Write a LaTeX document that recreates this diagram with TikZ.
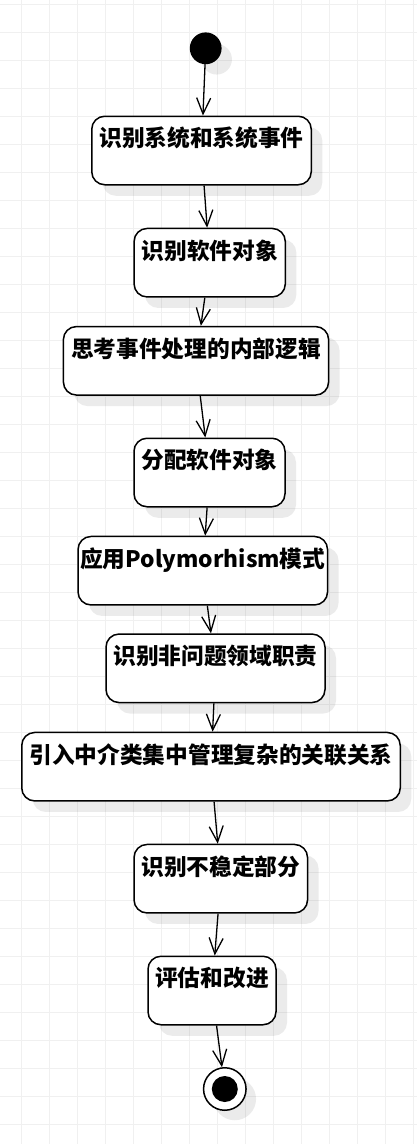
\documentclass[tikz,border=0pt]{standalone}
\usepackage{fontspec}
\setmainfont{Noto Sans CJK SC}
\usetikzlibrary{arrows.meta,shadows}

\begin{document}
\begin{tikzpicture}[x=1pt, y=-1pt,
        gridline/.style={draw=black!6, line width=0.9pt},
        act/.style={rectangle, rounded corners=13pt, draw, line width=1.5pt, fill=white, minimum height=68.5pt, inner sep=0pt, text height=30.6pt, text depth=37.9pt, font=\fontsize{22.7}{26}\selectfont\bfseries, drop shadow={shadow xshift=11pt, shadow yshift=-11pt, fill=black, opacity=0.08}},
        initial/.style={circle, draw, fill=black, line width=1.3pt, minimum size=30.5pt, inner sep=0pt, drop shadow={shadow xshift=11pt, shadow yshift=-11pt, fill=black, opacity=0.08}},
        final/.style={circle, draw, fill=white, line width=1.5pt, minimum size=42.5pt, inner sep=0pt, path picture={\fill[black] (path picture bounding box.center) circle (13pt);}, drop shadow={shadow xshift=10pt, shadow yshift=-10pt, fill=black, opacity=0.08}},
        flow/.style={-{Straight Barb[length=16pt, width=14pt]}, line width=1.3pt},
    ]
        % page and grid
        \useasboundingbox[fill=white] (0,0) rectangle (417,1144);
        \foreach \i in {0,...,14}
            \draw[gridline] ({21.3+28*\i},0) -- ({21.3+28*\i},1144);
        \foreach \j in {0,...,40}
            \draw[gridline] (0,{4.3+28*\j}) -- (417,{4.3+28*\j});

        % activities
        \node[initial] (start) at (205.7, 48.3) {};
        \node[act, minimum width=219.5pt] (sysevt) at (201.5, 150.5) {识别系统和系统事件};
        \node[act, minimum width=151.2pt] (swobj) at (209.7, 262.7) {识别软件对象};
        \node[act, minimum width=265.2pt] (logic) at (196, 360.8) {思考事件处理的内部逻辑};
        \node[act, minimum width=151pt] (assign) at (209.5, 472.5) {分配软件对象};
        \node[act, minimum width=249.5pt] (poly) at (202.8, 570.7) {应用Polymorhism模式};
        \node[act, minimum width=219pt] (nonprob) at (215.5, 668.3) {识别非问题领域职责};
        \node[act, minimum width=378.5pt] (mediator) at (211, 766.7) {引入中介类集中管理复杂的关联关系};
        \node[act, minimum width=173.5pt] (unstable) at (220.8, 878.7) {识别不稳定部分};
        \node[act, minimum width=128pt] (improve) at (212, 990.5) {评估和改进};
        \node[final] (stop) at (224.8, 1089) {};

        % control flow
        \draw[flow] (start) -- (sysevt);
        \draw[flow] (sysevt) -- (swobj);
        \draw[flow] (swobj) -- (logic);
        \draw[flow] (logic) -- (assign);
        \draw[flow] (assign) -- (poly);
        \draw[flow] (poly) -- (nonprob);
        \draw[flow] (nonprob) -- (mediator);
        \draw[flow] (mediator) -- (unstable);
        \draw[flow] (unstable) -- (improve);
        \draw[flow] (improve) -- (stop);
    \end{tikzpicture}
\end{document}
